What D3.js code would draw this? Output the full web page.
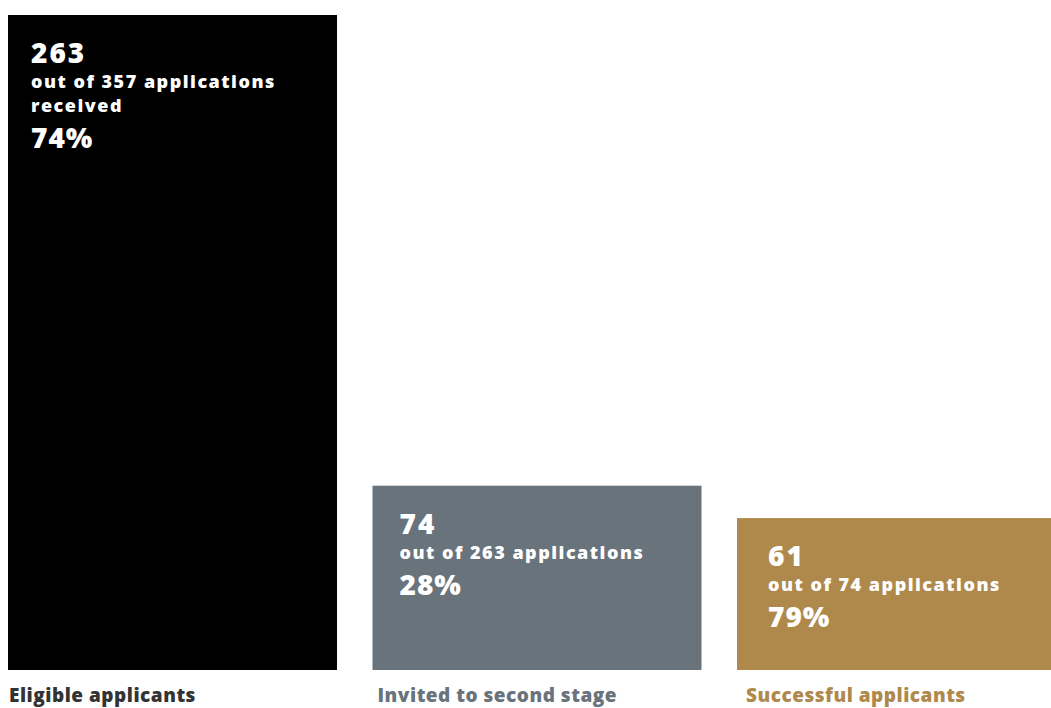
<!DOCTYPE html>
<html>
<head>
<meta charset="utf-8">
<script src="https://cdn.jsdelivr.net/npm/d3@7"></script>
<style>
  html, body { margin: 0; padding: 0; background: #fff; }
  svg { display: block; }
  text { font-family: "Open Sans", "Lato", sans-serif; font-weight: 800; }
</style>
</head>
<body>
<script>
// Application funnel: counts at each stage
const categories = ["Eligible applicants", "Invited to second stage", "Successful applicants"];
const values = [263, 74, 61];
const subtitles = [
  ["out of 357 applications", "received"],
  ["out of 263 applications"],
  ["out of 74 applications"]
];
const percents = ["74%", "28%", "79%"];
const barColors = ["#000000", "#69737b", "#af894c"];
const labelColors = ["#333333", "#69737b", "#af894c"];

const width = 1051, height = 708;
const plotBottom = 670, plotTop = 15;

const svg = d3.select("body").append("svg")
  .attr("width", width)
  .attr("height", height);

const x = d3.scaleBand()
  .domain(categories)
  .range([8, 1066])
  .paddingInner(0.0974)
  .paddingOuter(0);

const y = d3.scaleLinear()
  .domain([0, d3.max(values)])
  .range([plotBottom, plotTop]);

const rows = categories.map((c, i) => ({
  cat: c, value: values[i], lines: subtitles[i], pct: percents[i],
  color: barColors[i], labelColor: labelColors[i], i
}));

// bars
svg.append("g").selectAll("rect")
  .data(rows)
  .join("rect")
  .attr("x", d => x(d.cat))
  .attr("y", d => y(d.value))
  .attr("width", x.bandwidth())
  .attr("height", d => y(0) - y(d.value))
  .attr("fill", d => d.color);

// text inside each bar
const inner = svg.append("g").selectAll("g")
  .data(rows)
  .join("g")
  .attr("transform", d => `translate(${x(d.cat) + 23 + 4 * d.i},${y(d.value)})`)
  .attr("fill", "#fff");

inner.append("text")
  .attr("y", 48)
  .attr("font-size", 28)
  .attr("letter-spacing", 2)
  .text(d => d.value);

inner.each(function(d) {
  const g = d3.select(this);
  d.lines.forEach((ln, k) => {
    g.append("text")
      .attr("y", 73 + 24 * k)
      .attr("font-size", 18)
      .attr("letter-spacing", 1.5)
      .text(ln);
  });
  g.append("text")
    .attr("y", 73 + 24 * (d.lines.length - 1) + 36)
    .attr("font-size", 28)
    .attr("letter-spacing", 1)
    .text(d.pct);
});

// category labels under the bars
svg.append("g").selectAll("text")
  .data(rows)
  .join("text")
  .attr("x", d => x(d.cat) + 1 + 4 * d.i)
  .attr("y", 702)
  .attr("font-size", 19)
  .attr("letter-spacing", 0.5)
  .attr("fill", d => d.labelColor)
  .text(d => d.cat);
</script>
</body>
</html>
